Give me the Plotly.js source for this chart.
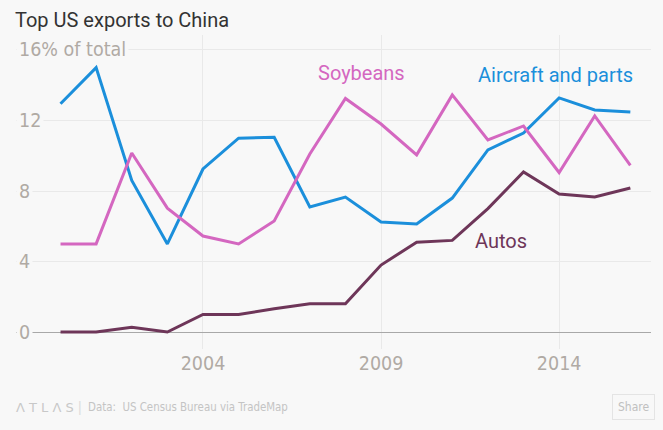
<!DOCTYPE html>
<html>
<head>
<meta charset="utf-8">
<script src="https://cdn.plot.ly/plotly-3.0.1.min.js"></script>
<style>
html,body{margin:0;padding:0;background:#f8f8f8;}
#chart{width:663px;height:430px;}
</style>
</head>
<body>
<div id="chart"></div>
<script>
const years = [2000,2001,2002,2003,2004,2005,2006,2007,2008,2009,2010,2011,2012,2013,2014,2015,2016];
const aircraft = [12.95,15.0,8.6,5.0,9.25,11.0,11.05,7.1,7.66,6.24,6.13,7.6,10.33,11.29,13.28,12.6,12.48];
const soybeans = [5.0,5.0,10.16,7.03,5.45,5.0,6.3,10.1,13.25,11.8,10.05,13.45,10.9,11.69,9.05,12.26,9.45];
const autos = [0,0,0.28,0,1.0,1.0,1.32,1.6,1.6,3.8,5.1,5.2,7.0,9.08,7.83,7.66,8.17];
const xTickVals = [2004,2009,2014];
const xTickText = ['2004','2009','2014'];
const yTickVals = [0,4,8,12,16];
const yTickText = ['0','4','8','12','16% of total'];
const seriesNames = ['Aircraft and parts','Soybeans','Autos'];
const seriesColors = ['#1b8fdb','#d467c0','#6e3659'];

const bg = '#f8f8f8';
const tickFont = {family:'"DejaVu Sans Condensed",sans-serif', size:19.5, color:'#b0aaa4'};

const seriesData = [aircraft, soybeans, autos];
const traces = seriesData.map((vals,i)=>({
  x: years, y: vals, type:'scatter', mode:'lines', name: seriesNames[i],
  line:{color: seriesColors[i], width:3}, hoverinfo:'skip'
}));

const yLabelAnns = yTickVals.map((v,i)=>({
  xref:'paper', yref:'y', x:0, y:v, xanchor:'left', yanchor:'middle',
  text: yTickText[i], showarrow:false, bgcolor:bg, borderpad:2,
  font: tickFont
}));

const seriesLabelPos = [
  {x:2011.66, y:14.6},
  {x:2007.18, y:14.7},
  {x:2011.58, y:5.16}
];
const seriesAnns = seriesNames.map((n,i)=>({
  xref:'x', yref:'y', x:seriesLabelPos[i].x, y:seriesLabelPos[i].y,
  xanchor:'left', yanchor:'middle', text:n, showarrow:false,
  font:{family:'Roboto, sans-serif', size:20, color:seriesColors[i]}
}));

const footerAnns = [
  {xref:'paper', yref:'paper', x:-0.003, y:-0.185, xanchor:'left', yanchor:'middle', showarrow:false,
   text:'Λ T L Λ S', font:{family:'"DejaVu Sans", sans-serif', size:13, color:'#c8c8c8'}},
  {xref:'paper', yref:'paper', x:0.095, y:-0.185, xanchor:'left', yanchor:'middle', showarrow:false,
   text:'|', font:{family:'"Liberation Sans", sans-serif', size:14, color:'#dddddd'}},
  {xref:'paper', yref:'paper', x:0.11, y:-0.185, xanchor:'left', yanchor:'middle', showarrow:false,
   text:'Data:  US Census Bureau via TradeMap', font:{family:'"DejaVu Sans Condensed", sans-serif', size:11.4, color:'#c4c4c4'}},
  {xref:'paper', yref:'paper', x:(633-16)/635, y:-0.185, xanchor:'center', yanchor:'middle', showarrow:false,
   text:'Share', bordercolor:'#e4e4e4', borderwidth:1, borderpad:5, bgcolor:bg,
   font:{family:'"DejaVu Sans Condensed", sans-serif', size:12, color:'#c0c0c0'}}
];

const layout = {
  width:663, height:430,
  paper_bgcolor:bg, plot_bgcolor:bg,
  margin:{l:16, r:12, t:35, b:81},
  showlegend:false,
  title:{text:'Top US exports to China', x:15/663, xanchor:'left', xref:'container',
         y:1-20/430, yanchor:'middle', yref:'container',
         font:{family:'Roboto, sans-serif', size:20, color:'#333333'}},
  xaxis:{range:[1998.75,2016.58], tickvals:xTickVals, ticktext:xTickText, showgrid:true,
         gridcolor:'#e9e9e9', gridwidth:1, zeroline:false, showline:false, ticks:'',
         tickfont:tickFont, fixedrange:true},
  yaxis:{range:[-0.96,16.85], tickvals:yTickVals, showticklabels:false, showgrid:true,
         gridcolor:'#e9e9e9', gridwidth:1, zeroline:true, zerolinecolor:'#a8a8a8', zerolinewidth:1,
         showline:false, ticks:'', fixedrange:true},
  annotations:[...yLabelAnns, ...seriesAnns, ...footerAnns]
};

Plotly.newPlot('chart', traces, layout, {displayModeBar:false, staticPlot:true});
</script>
</body>
</html>
